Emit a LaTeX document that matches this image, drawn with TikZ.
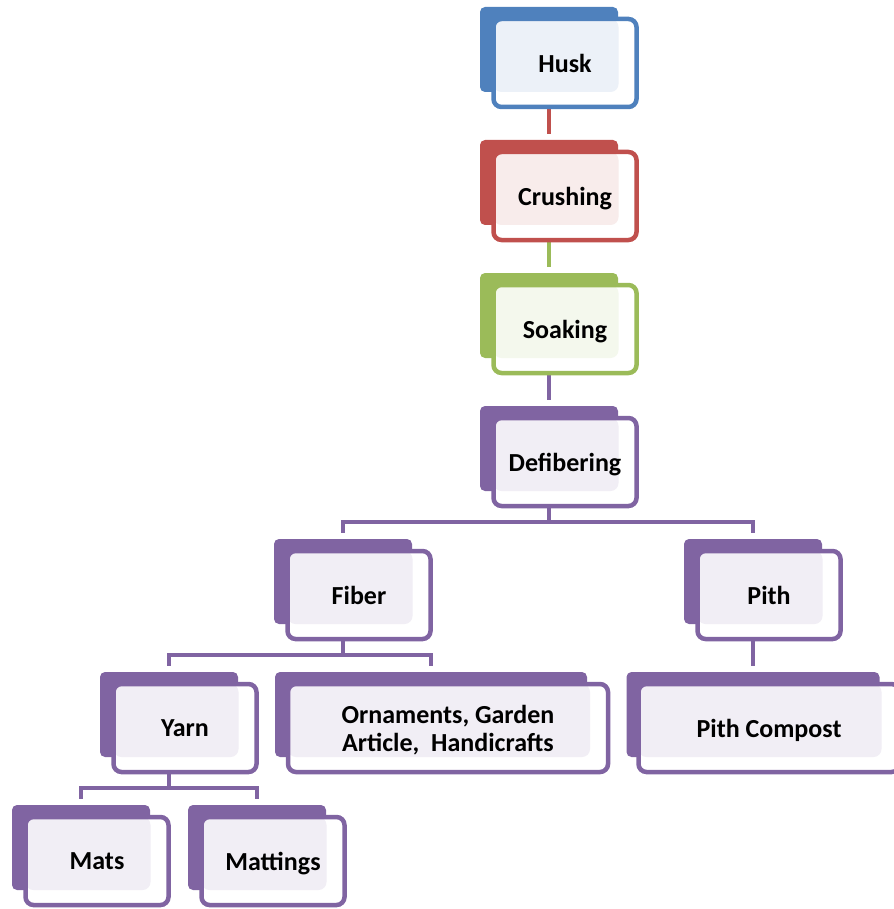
\documentclass[tikz,border=0pt]{standalone}
\usepackage{fontspec}
\setmainfont{Carlito}
\usepackage{xcolor}
\usepackage{tikz}
\usetikzlibrary{backgrounds}

\definecolor{huskblue}{HTML}{4F81BD}
\definecolor{crushred}{HTML}{C0504D}
\definecolor{soakgreen}{HTML}{9BBB59}
\definecolor{fibpurple}{HTML}{8064A2}

\tikzset{
  back/.style={fill=#1, rounded corners=5pt, minimum width=138pt, minimum height=85pt, inner sep=0pt},
  front/.style={draw=#1, fill=white, line width=4.5pt, rounded corners=8pt,
    minimum width=143pt, minimum height=88pt, inner sep=2pt, text depth=0pt, align=center,
    font=\bfseries\fontsize{26}{28}\selectfont,
    path picture={\fill[#1!11] (path picture bounding box.north west) rectangle ([xshift=-18pt,yshift=15pt]path picture bounding box.south east);}},
  link/.style={draw=#1, line width=4.5pt}
}

\begin{document}
\begin{tikzpicture}[x=1pt, y=1pt, node distance=133pt]
        \useasboundingbox (0,0) rectangle (893,-909);

        % Nodes
        \node (husk) [back=huskblue] at (549,-49.5) {};
        \node (crushing) [back=crushred, below of=husk] {};
        \node (soaking) [back=soakgreen, below of=crushing] {};
        \node (defibering) [back=fibpurple, below of=soaking] {};
        \node (fiber) [back=fibpurple, below of=defibering, xshift=-206pt] {};
        \node (pith) [back=fibpurple, below of=defibering, xshift=204pt] {};
        \node (yarn) [back=fibpurple, below of=fiber, xshift=-174pt] {};
        \node (ornaments) [back=fibpurple, minimum width=312pt, below of=fiber, xshift=88pt] {};
        \node (compost) [back=fibpurple, minimum width=253pt, below of=pith] {};
        \node (mats) [back=fibpurple, below of=yarn, xshift=-88pt] {};
        \node (mattings) [back=fibpurple, below of=yarn, xshift=88pt] {};

        \node (husk_f) [front=huskblue] at ([xshift=16pt,yshift=-13.5pt]husk) {Husk};
        \node (crushing_f) [front=crushred] at ([xshift=16pt,yshift=-13.5pt]crushing) {Crushing};
        \node (soaking_f) [front=soakgreen] at ([xshift=16pt,yshift=-13.5pt]soaking) {Soaking};
        \node (defibering_f) [front=fibpurple] at ([xshift=16pt,yshift=-13.5pt]defibering) {Defibering};
        \node (fiber_f) [front=fibpurple] at ([xshift=16pt,yshift=-13.5pt]fiber) {Fiber};
        \node (pith_f) [front=fibpurple] at ([xshift=16pt,yshift=-13.5pt]pith) {Pith};
        \node (yarn_f) [front=fibpurple] at ([xshift=16pt,yshift=-13.5pt]yarn) {Yarn};
        \node (ornaments_f) [front=fibpurple, minimum width=320pt] at ([xshift=17pt,yshift=-13.5pt]ornaments) {Ornaments, Garden\\Article,\ \ Handicrafts};
        \node (compost_f) [front=fibpurple, minimum width=261pt] at ([xshift=16pt,yshift=-13.5pt]compost) {Pith Compost};
        \node (mats_f) [front=fibpurple] at ([xshift=16pt,yshift=-13.5pt]mats) {Mats};
        \node (mattings_f) [front=fibpurple] at ([xshift=16pt,yshift=-13.5pt]mattings) {Mattings};

        % Arrows
        \begin{scope}[on background layer]
        \coordinate (bus_a) at ([yshift=17pt]fiber.north);
        \coordinate (bus_b) at ([yshift=17pt]yarn.north);
        \coordinate (bus_c) at ([yshift=17pt]mats.north);
        \draw[link=crushred] (husk) -- ([yshift=6pt]crushing.north);
        \draw[link=soakgreen] (crushing) -- ([yshift=6pt]soaking.north);
        \draw[link=fibpurple] (soaking) -- ([yshift=6pt]defibering.north);
        \draw[link=fibpurple] (defibering) -- (defibering |- bus_a);
        \draw[link=fibpurple] ([yshift=6pt]fiber.north) -- (bus_a) -| ([yshift=6pt]pith.north);
        \draw[link=fibpurple] (fiber) -- (fiber |- bus_b);
        \draw[link=fibpurple] ([yshift=6pt]yarn.north) -- (bus_b) -| ([yshift=6pt]ornaments.north);
        \draw[link=fibpurple] (pith) -- ([yshift=6pt]compost.north);
        \draw[link=fibpurple] (yarn) -- (yarn |- bus_c);
        \draw[link=fibpurple] ([yshift=6pt]mats.north) -- (bus_c) -| ([yshift=6pt]mattings.north);
        \end{scope}
    \end{tikzpicture}
\end{document}
